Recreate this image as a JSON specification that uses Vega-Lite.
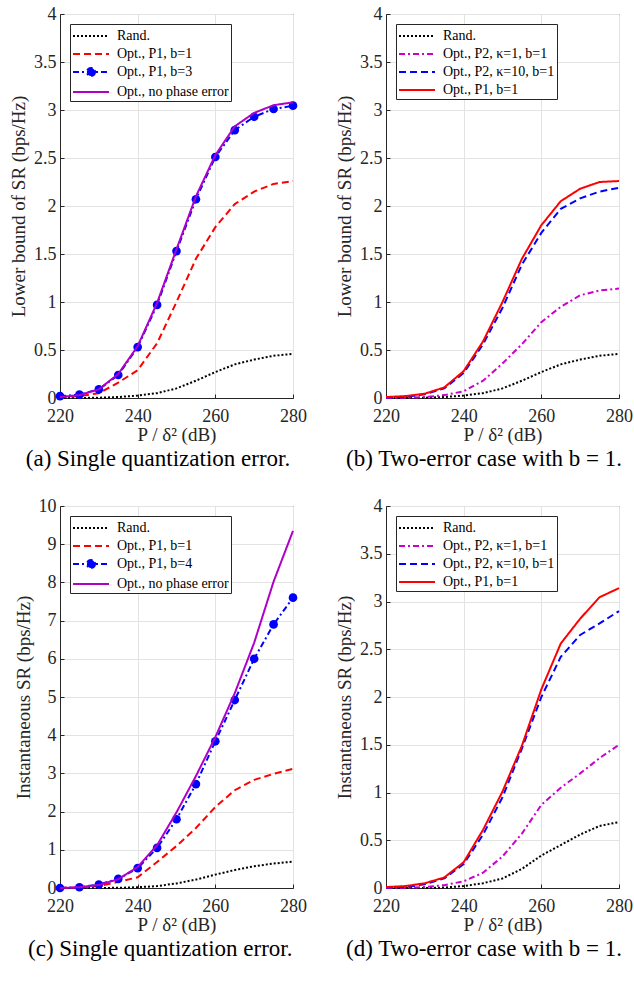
{
  "$schema": "https://vega.github.io/schema/vega-lite/v6.json",
  "background": "white",
  "padding": {"left": 9, "top": 4, "right": 3, "bottom": 5},
  "config": {
    "font": "'Liberation Serif', 'Times New Roman', Times, serif",
    "view": {"stroke": "#262626", "strokeWidth": 1},
    "axis": {"labelFont": "'Liberation Serif', 'Times New Roman', Times, serif", "labelFontSize": 18, "labelColor": "#262626", "labelFlush": false, "labelOverlap": false, "titleFont": "'Liberation Serif', 'Times New Roman', Times, serif", "titleFontSize": 19, "titleFontWeight": "normal", "titleColor": "#262626", "domainColor": "#262626", "tickColor": "#262626", "tickSize": -4, "labelPadding": 8, "gridColor": "#e3e3e3", "grid": true},
    "axisX": {"titlePadding": 0, "labelPadding": 13},
    "axisY": {"titlePadding": 5},
    "legend": {"orient": "top-left", "offset": 10, "padding": 2, "strokeColor": "#262626", "fillColor": "white", "labelFont": "'Liberation Serif', 'Times New Roman', Times, serif", "labelFontSize": 14, "labelColor": "black", "symbolType": "M-2,0H2", "symbolSize": 324, "symbolOffset": 9, "symbolStrokeWidth": 2, "rowPadding": 1, "labelOffset": 16, "title": null, "cornerRadius": 0},
    "title": {"font": "'Liberation Serif', 'Times New Roman', Times, serif", "fontSize": 23, "fontWeight": "normal", "color": "black", "orient": "bottom", "anchor": "middle", "frame": "bounds", "offset": 0}
  },
  "columns": 2,
  "bounds": "flush",
  "spacing": {"row": 108, "column": 93},
  "resolve": {"scale": {"color": "independent", "strokeDash": "independent", "x": "independent", "y": "independent"}, "legend": {"color": "independent", "strokeDash": "independent"}},
  "concat": [
    {
      "width": 233, "height": 384,
      "title": "(a) Single quantization error.",
      "data": {"values": [
        {"x":220,"y":0,"s":"Rand."},{"x":225,"y":0,"s":"Rand."},{"x":230,"y":0.003,"s":"Rand."},{"x":235,"y":0.01,"s":"Rand."},{"x":240,"y":0.025,"s":"Rand."},{"x":245,"y":0.05,"s":"Rand."},{"x":250,"y":0.1,"s":"Rand."},{"x":255,"y":0.18,"s":"Rand."},{"x":260,"y":0.27,"s":"Rand."},{"x":265,"y":0.35,"s":"Rand."},{"x":270,"y":0.4,"s":"Rand."},{"x":275,"y":0.44,"s":"Rand."},{"x":280,"y":0.46,"s":"Rand."},
        {"x":220,"y":0.01,"s":"Opt., P1, b=1"},{"x":225,"y":0.02,"s":"Opt., P1, b=1"},{"x":230,"y":0.05,"s":"Opt., P1, b=1"},{"x":235,"y":0.16,"s":"Opt., P1, b=1"},{"x":240,"y":0.29,"s":"Opt., P1, b=1"},{"x":245,"y":0.57,"s":"Opt., P1, b=1"},{"x":250,"y":1.0,"s":"Opt., P1, b=1"},{"x":255,"y":1.45,"s":"Opt., P1, b=1"},{"x":260,"y":1.78,"s":"Opt., P1, b=1"},{"x":265,"y":2.02,"s":"Opt., P1, b=1"},{"x":270,"y":2.15,"s":"Opt., P1, b=1"},{"x":275,"y":2.23,"s":"Opt., P1, b=1"},{"x":280,"y":2.26,"s":"Opt., P1, b=1"},
        {"x":220,"y":0.02,"s":"Opt., P1, b=3"},{"x":225,"y":0.035,"s":"Opt., P1, b=3"},{"x":230,"y":0.09,"s":"Opt., P1, b=3"},{"x":235,"y":0.24,"s":"Opt., P1, b=3"},{"x":240,"y":0.53,"s":"Opt., P1, b=3"},{"x":245,"y":0.97,"s":"Opt., P1, b=3"},{"x":250,"y":1.53,"s":"Opt., P1, b=3"},{"x":255,"y":2.07,"s":"Opt., P1, b=3"},{"x":260,"y":2.51,"s":"Opt., P1, b=3"},{"x":265,"y":2.79,"s":"Opt., P1, b=3"},{"x":270,"y":2.93,"s":"Opt., P1, b=3"},{"x":275,"y":3.01,"s":"Opt., P1, b=3"},{"x":280,"y":3.045,"s":"Opt., P1, b=3"},
        {"x":220,"y":0.01,"s":"Opt., no phase error"},{"x":225,"y":0.03,"s":"Opt., no phase error"},{"x":230,"y":0.09,"s":"Opt., no phase error"},{"x":235,"y":0.25,"s":"Opt., no phase error"},{"x":240,"y":0.54,"s":"Opt., no phase error"},{"x":245,"y":0.99,"s":"Opt., no phase error"},{"x":250,"y":1.55,"s":"Opt., no phase error"},{"x":255,"y":2.1,"s":"Opt., no phase error"},{"x":260,"y":2.53,"s":"Opt., no phase error"},{"x":265,"y":2.83,"s":"Opt., no phase error"},{"x":270,"y":2.97,"s":"Opt., no phase error"},{"x":275,"y":3.05,"s":"Opt., no phase error"},{"x":280,"y":3.08,"s":"Opt., no phase error"}
      ]},
      "encoding": {
        "x": {"field": "x", "type": "quantitative", "scale": {"domain": [220, 280], "nice": false}, "axis": {"values": [220, 240, 260, 280], "format": "d", "title": "P / δ² (dB)"}},
        "y": {"field": "y", "type": "quantitative", "scale": {"domain": [0, 4], "nice": false}, "axis": {"values": [0, 0.5, 1, 1.5, 2, 2.5, 3, 3.5, 4], "format": "~r", "title": "Lower bound of SR (bps/Hz)"}}
      },
      "layer": [
        {
          "transform": [{"filter": "datum.s !== 'Opt., no phase error'"}],
          "mark": {"type": "line", "strokeWidth": 2},
          "encoding": {
            "color": {"field": "s", "type": "nominal", "scale": {"domain": ["Rand.", "Opt., P1, b=1", "Opt., P1, b=3", "Opt., no phase error"], "range": ["#000000", "#ff0000", "#0000ff", "#b000c8"]},
              "legend": {"encode": {"symbols": {"update": {"shape": {"signal": "datum.value === 'Opt., P1, b=3' ? 'M-2,0H2M0.45,0A0.45,0.45,0,1,1,-0.45,0A0.45,0.45,0,1,1,0.45,0Z' : 'M-2,0H2'"}, "fill": {"signal": "datum.value === 'Opt., P1, b=3' ? '#0000ff' : 'transparent'"}}}}}},
            "strokeDash": {"field": "s", "type": "nominal", "scale": {"domain": ["Rand.", "Opt., P1, b=1", "Opt., P1, b=3", "Opt., no phase error"], "range": [[2, 2], [7, 4], [6, 3, 2, 3], [1, 0]]}}
          }
        },
        {
          "transform": [{"filter": "datum.s === 'Opt., P1, b=3'"}],
          "mark": {"type": "point", "filled": true, "size": 75, "color": "#0000ff", "opacity": 1}
        },
        {
          "transform": [{"filter": "datum.s === 'Opt., no phase error'"}],
          "mark": {"type": "line", "strokeWidth": 2},
          "encoding": {
            "color": {"field": "s", "type": "nominal"},
            "strokeDash": {"field": "s", "type": "nominal"}
          }
        }
      ]
    },
    {
      "width": 233, "height": 384,
      "title": "(b) Two-error case with b = 1.",
      "data": {"values": [
        {"x":220,"y":0,"s":"Rand."},{"x":225,"y":0,"s":"Rand."},{"x":230,"y":0.003,"s":"Rand."},{"x":235,"y":0.01,"s":"Rand."},{"x":240,"y":0.025,"s":"Rand."},{"x":245,"y":0.05,"s":"Rand."},{"x":250,"y":0.1,"s":"Rand."},{"x":255,"y":0.18,"s":"Rand."},{"x":260,"y":0.27,"s":"Rand."},{"x":265,"y":0.35,"s":"Rand."},{"x":270,"y":0.4,"s":"Rand."},{"x":275,"y":0.44,"s":"Rand."},{"x":280,"y":0.46,"s":"Rand."},
        {"x":220,"y":0,"s":"Opt., P2, κ=1, b=1"},{"x":225,"y":0.003,"s":"Opt., P2, κ=1, b=1"},{"x":230,"y":0.01,"s":"Opt., P2, κ=1, b=1"},{"x":235,"y":0.03,"s":"Opt., P2, κ=1, b=1"},{"x":240,"y":0.07,"s":"Opt., P2, κ=1, b=1"},{"x":245,"y":0.18,"s":"Opt., P2, κ=1, b=1"},{"x":250,"y":0.36,"s":"Opt., P2, κ=1, b=1"},{"x":255,"y":0.56,"s":"Opt., P2, κ=1, b=1"},{"x":260,"y":0.79,"s":"Opt., P2, κ=1, b=1"},{"x":265,"y":0.95,"s":"Opt., P2, κ=1, b=1"},{"x":270,"y":1.07,"s":"Opt., P2, κ=1, b=1"},{"x":275,"y":1.12,"s":"Opt., P2, κ=1, b=1"},{"x":280,"y":1.14,"s":"Opt., P2, κ=1, b=1"},
        {"x":220,"y":0.005,"s":"Opt., P2, κ=10, b=1"},{"x":225,"y":0.01,"s":"Opt., P2, κ=10, b=1"},{"x":230,"y":0.04,"s":"Opt., P2, κ=10, b=1"},{"x":235,"y":0.1,"s":"Opt., P2, κ=10, b=1"},{"x":240,"y":0.26,"s":"Opt., P2, κ=10, b=1"},{"x":245,"y":0.56,"s":"Opt., P2, κ=10, b=1"},{"x":250,"y":0.94,"s":"Opt., P2, κ=10, b=1"},{"x":255,"y":1.39,"s":"Opt., P2, κ=10, b=1"},{"x":260,"y":1.72,"s":"Opt., P2, κ=10, b=1"},{"x":265,"y":1.97,"s":"Opt., P2, κ=10, b=1"},{"x":270,"y":2.08,"s":"Opt., P2, κ=10, b=1"},{"x":275,"y":2.15,"s":"Opt., P2, κ=10, b=1"},{"x":280,"y":2.19,"s":"Opt., P2, κ=10, b=1"},
        {"x":220,"y":0.01,"s":"Opt., P1, b=1"},{"x":225,"y":0.02,"s":"Opt., P1, b=1"},{"x":230,"y":0.045,"s":"Opt., P1, b=1"},{"x":235,"y":0.11,"s":"Opt., P1, b=1"},{"x":240,"y":0.28,"s":"Opt., P1, b=1"},{"x":245,"y":0.59,"s":"Opt., P1, b=1"},{"x":250,"y":1.0,"s":"Opt., P1, b=1"},{"x":255,"y":1.45,"s":"Opt., P1, b=1"},{"x":260,"y":1.8,"s":"Opt., P1, b=1"},{"x":265,"y":2.05,"s":"Opt., P1, b=1"},{"x":270,"y":2.18,"s":"Opt., P1, b=1"},{"x":275,"y":2.25,"s":"Opt., P1, b=1"},{"x":280,"y":2.26,"s":"Opt., P1, b=1"}
      ]},
      "mark": {"type": "line", "strokeWidth": 2},
      "encoding": {
        "x": {"field": "x", "type": "quantitative", "scale": {"domain": [220, 280], "nice": false}, "axis": {"values": [220, 240, 260, 280], "format": "d", "title": "P / δ² (dB)"}},
        "y": {"field": "y", "type": "quantitative", "scale": {"domain": [0, 4], "nice": false}, "axis": {"values": [0, 0.5, 1, 1.5, 2, 2.5, 3, 3.5, 4], "format": "~r", "title": "Lower bound of SR (bps/Hz)"}},
        "color": {"field": "s", "type": "nominal", "scale": {"domain": ["Rand.", "Opt., P2, κ=1, b=1", "Opt., P2, κ=10, b=1", "Opt., P1, b=1"], "range": ["#000000", "#cc00cc", "#0000ff", "#ff0000"]}},
        "strokeDash": {"field": "s", "type": "nominal", "scale": {"domain": ["Rand.", "Opt., P2, κ=1, b=1", "Opt., P2, κ=10, b=1", "Opt., P1, b=1"], "range": [[2, 2], [6, 3, 2, 3], [7, 4], [1, 0]]}}
      }
    },
    {
      "width": 233, "height": 382,
      "title": "(c) Single quantization error.",
      "data": {"values": [
        {"x":220,"y":0,"s":"Rand."},{"x":225,"y":0,"s":"Rand."},{"x":230,"y":0,"s":"Rand."},{"x":235,"y":0.005,"s":"Rand."},{"x":240,"y":0.02,"s":"Rand."},{"x":245,"y":0.05,"s":"Rand."},{"x":250,"y":0.12,"s":"Rand."},{"x":255,"y":0.22,"s":"Rand."},{"x":260,"y":0.35,"s":"Rand."},{"x":265,"y":0.47,"s":"Rand."},{"x":270,"y":0.57,"s":"Rand."},{"x":275,"y":0.64,"s":"Rand."},{"x":280,"y":0.69,"s":"Rand."},
        {"x":220,"y":0,"s":"Opt., P1, b=1"},{"x":225,"y":0.01,"s":"Opt., P1, b=1"},{"x":230,"y":0.05,"s":"Opt., P1, b=1"},{"x":235,"y":0.16,"s":"Opt., P1, b=1"},{"x":240,"y":0.28,"s":"Opt., P1, b=1"},{"x":245,"y":0.68,"s":"Opt., P1, b=1"},{"x":250,"y":1.1,"s":"Opt., P1, b=1"},{"x":255,"y":1.57,"s":"Opt., P1, b=1"},{"x":260,"y":2.12,"s":"Opt., P1, b=1"},{"x":265,"y":2.56,"s":"Opt., P1, b=1"},{"x":270,"y":2.83,"s":"Opt., P1, b=1"},{"x":275,"y":2.99,"s":"Opt., P1, b=1"},{"x":280,"y":3.12,"s":"Opt., P1, b=1"},
        {"x":220,"y":0,"s":"Opt., P1, b=4"},{"x":225,"y":0.02,"s":"Opt., P1, b=4"},{"x":230,"y":0.09,"s":"Opt., P1, b=4"},{"x":235,"y":0.24,"s":"Opt., P1, b=4"},{"x":240,"y":0.52,"s":"Opt., P1, b=4"},{"x":245,"y":1.05,"s":"Opt., P1, b=4"},{"x":250,"y":1.8,"s":"Opt., P1, b=4"},{"x":255,"y":2.72,"s":"Opt., P1, b=4"},{"x":260,"y":3.84,"s":"Opt., P1, b=4"},{"x":265,"y":4.92,"s":"Opt., P1, b=4"},{"x":270,"y":6.0,"s":"Opt., P1, b=4"},{"x":275,"y":6.9,"s":"Opt., P1, b=4"},{"x":280,"y":7.6,"s":"Opt., P1, b=4"},
        {"x":220,"y":0,"s":"Opt., no phase error"},{"x":225,"y":0.02,"s":"Opt., no phase error"},{"x":230,"y":0.08,"s":"Opt., no phase error"},{"x":235,"y":0.23,"s":"Opt., no phase error"},{"x":240,"y":0.55,"s":"Opt., no phase error"},{"x":245,"y":1.12,"s":"Opt., no phase error"},{"x":250,"y":1.98,"s":"Opt., no phase error"},{"x":255,"y":2.93,"s":"Opt., no phase error"},{"x":260,"y":3.95,"s":"Opt., no phase error"},{"x":265,"y":5.1,"s":"Opt., no phase error"},{"x":270,"y":6.42,"s":"Opt., no phase error"},{"x":275,"y":8.02,"s":"Opt., no phase error"},{"x":280,"y":9.35,"s":"Opt., no phase error"}
      ]},
      "encoding": {
        "x": {"field": "x", "type": "quantitative", "scale": {"domain": [220, 280], "nice": false}, "axis": {"values": [220, 240, 260, 280], "format": "d", "title": "P / δ² (dB)"}},
        "y": {"field": "y", "type": "quantitative", "scale": {"domain": [0, 10], "nice": false}, "axis": {"values": [0, 1, 2, 3, 4, 5, 6, 7, 8, 9, 10], "format": "d", "title": "Instantaneous SR (bps/Hz)"}}
      },
      "layer": [
        {
          "transform": [{"filter": "datum.s !== 'Opt., no phase error'"}],
          "mark": {"type": "line", "strokeWidth": 2},
          "encoding": {
            "color": {"field": "s", "type": "nominal", "scale": {"domain": ["Rand.", "Opt., P1, b=1", "Opt., P1, b=4", "Opt., no phase error"], "range": ["#000000", "#ff0000", "#0000ff", "#b000c8"]},
              "legend": {"encode": {"symbols": {"update": {"shape": {"signal": "datum.value === 'Opt., P1, b=4' ? 'M-2,0H2M0.45,0A0.45,0.45,0,1,1,-0.45,0A0.45,0.45,0,1,1,0.45,0Z' : 'M-2,0H2'"}, "fill": {"signal": "datum.value === 'Opt., P1, b=4' ? '#0000ff' : 'transparent'"}}}}}},
            "strokeDash": {"field": "s", "type": "nominal", "scale": {"domain": ["Rand.", "Opt., P1, b=1", "Opt., P1, b=4", "Opt., no phase error"], "range": [[2, 2], [7, 4], [6, 3, 2, 3], [1, 0]]}}
          }
        },
        {
          "transform": [{"filter": "datum.s === 'Opt., P1, b=4'"}],
          "mark": {"type": "point", "filled": true, "size": 75, "color": "#0000ff", "opacity": 1}
        },
        {
          "transform": [{"filter": "datum.s === 'Opt., no phase error'"}],
          "mark": {"type": "line", "strokeWidth": 2},
          "encoding": {
            "color": {"field": "s", "type": "nominal"},
            "strokeDash": {"field": "s", "type": "nominal"}
          }
        }
      ]
    },
    {
      "width": 233, "height": 382,
      "title": "(d) Two-error case with b = 1.",
      "data": {"values": [
        {"x":220,"y":0,"s":"Rand."},{"x":225,"y":0,"s":"Rand."},{"x":230,"y":0,"s":"Rand."},{"x":235,"y":0.005,"s":"Rand."},{"x":240,"y":0.02,"s":"Rand."},{"x":245,"y":0.05,"s":"Rand."},{"x":250,"y":0.1,"s":"Rand."},{"x":255,"y":0.2,"s":"Rand."},{"x":260,"y":0.34,"s":"Rand."},{"x":265,"y":0.45,"s":"Rand."},{"x":270,"y":0.56,"s":"Rand."},{"x":275,"y":0.65,"s":"Rand."},{"x":280,"y":0.69,"s":"Rand."},
        {"x":220,"y":0,"s":"Opt., P2, κ=1, b=1"},{"x":225,"y":0.003,"s":"Opt., P2, κ=1, b=1"},{"x":230,"y":0.01,"s":"Opt., P2, κ=1, b=1"},{"x":235,"y":0.03,"s":"Opt., P2, κ=1, b=1"},{"x":240,"y":0.07,"s":"Opt., P2, κ=1, b=1"},{"x":245,"y":0.16,"s":"Opt., P2, κ=1, b=1"},{"x":250,"y":0.33,"s":"Opt., P2, κ=1, b=1"},{"x":255,"y":0.57,"s":"Opt., P2, κ=1, b=1"},{"x":260,"y":0.87,"s":"Opt., P2, κ=1, b=1"},{"x":265,"y":1.05,"s":"Opt., P2, κ=1, b=1"},{"x":270,"y":1.2,"s":"Opt., P2, κ=1, b=1"},{"x":275,"y":1.36,"s":"Opt., P2, κ=1, b=1"},{"x":280,"y":1.5,"s":"Opt., P2, κ=1, b=1"},
        {"x":220,"y":0.005,"s":"Opt., P2, κ=10, b=1"},{"x":225,"y":0.01,"s":"Opt., P2, κ=10, b=1"},{"x":230,"y":0.04,"s":"Opt., P2, κ=10, b=1"},{"x":235,"y":0.1,"s":"Opt., P2, κ=10, b=1"},{"x":240,"y":0.25,"s":"Opt., P2, κ=10, b=1"},{"x":245,"y":0.56,"s":"Opt., P2, κ=10, b=1"},{"x":250,"y":0.95,"s":"Opt., P2, κ=10, b=1"},{"x":255,"y":1.46,"s":"Opt., P2, κ=10, b=1"},{"x":260,"y":2.0,"s":"Opt., P2, κ=10, b=1"},{"x":265,"y":2.42,"s":"Opt., P2, κ=10, b=1"},{"x":270,"y":2.65,"s":"Opt., P2, κ=10, b=1"},{"x":275,"y":2.77,"s":"Opt., P2, κ=10, b=1"},{"x":280,"y":2.9,"s":"Opt., P2, κ=10, b=1"},
        {"x":220,"y":0.01,"s":"Opt., P1, b=1"},{"x":225,"y":0.02,"s":"Opt., P1, b=1"},{"x":230,"y":0.05,"s":"Opt., P1, b=1"},{"x":235,"y":0.11,"s":"Opt., P1, b=1"},{"x":240,"y":0.27,"s":"Opt., P1, b=1"},{"x":245,"y":0.61,"s":"Opt., P1, b=1"},{"x":250,"y":1.01,"s":"Opt., P1, b=1"},{"x":255,"y":1.49,"s":"Opt., P1, b=1"},{"x":260,"y":2.08,"s":"Opt., P1, b=1"},{"x":265,"y":2.56,"s":"Opt., P1, b=1"},{"x":270,"y":2.82,"s":"Opt., P1, b=1"},{"x":275,"y":3.045,"s":"Opt., P1, b=1"},{"x":280,"y":3.14,"s":"Opt., P1, b=1"}
      ]},
      "mark": {"type": "line", "strokeWidth": 2},
      "encoding": {
        "x": {"field": "x", "type": "quantitative", "scale": {"domain": [220, 280], "nice": false}, "axis": {"values": [220, 240, 260, 280], "format": "d", "title": "P / δ² (dB)"}},
        "y": {"field": "y", "type": "quantitative", "scale": {"domain": [0, 4], "nice": false}, "axis": {"values": [0, 0.5, 1, 1.5, 2, 2.5, 3, 3.5, 4], "format": "~r", "title": "Instantaneous SR (bps/Hz)"}},
        "color": {"field": "s", "type": "nominal", "scale": {"domain": ["Rand.", "Opt., P2, κ=1, b=1", "Opt., P2, κ=10, b=1", "Opt., P1, b=1"], "range": ["#000000", "#cc00cc", "#0000ff", "#ff0000"]}},
        "strokeDash": {"field": "s", "type": "nominal", "scale": {"domain": ["Rand.", "Opt., P2, κ=1, b=1", "Opt., P2, κ=10, b=1", "Opt., P1, b=1"], "range": [[2, 2], [6, 3, 2, 3], [7, 4], [1, 0]]}}
      }
    }
  ]
}
